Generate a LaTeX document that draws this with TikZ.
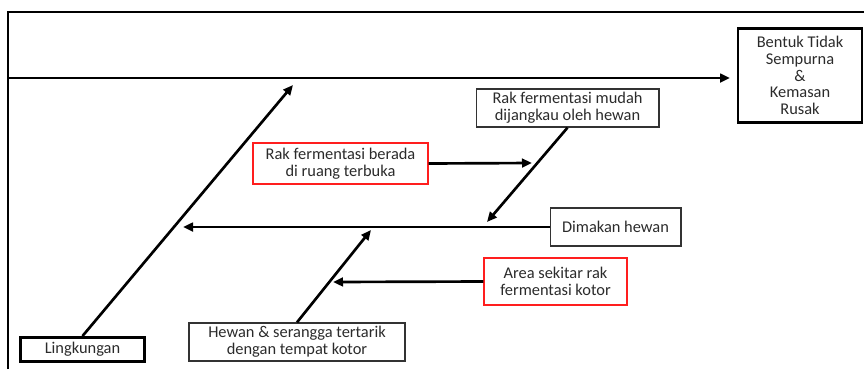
\documentclass[tikz,border=0pt]{standalone}
\usepackage{fontspec}
\setmainfont{Carlito}
\usepackage{tikz}
\usetikzlibrary{arrows.meta}
\definecolor{boxred}{HTML}{FF1E1E}
\definecolor{textgray}{HTML}{2B2B2B}

\begin{document}
\begin{tikzpicture}[x=0.75pt,y=-0.75pt,
    bone/.style={line width=2pt,-{Triangle[length=7.5pt,width=6.5pt]}},
    cause/.style={draw=black!80,line width=1pt,align=center,text=textgray,inner sep=1pt,
      font=\fontsize{12.3}{12.6}\selectfont},
    redcause/.style={cause,draw=boxred,line width=1.1pt},
    mainbox/.style={cause,draw=black,line width=2.2pt}]
        \useasboundingbox (0,0) rectangle (864,369);
        \draw[line width=1.2pt] (8,369)--(8,12)--(864,12);
        % boxes
        \node[mainbox,minimum width=93pt,minimum height=71pt] (effect) at (800,75.5) {Bentuk Tidak\\Sempurna\\\&\\Kemasan\\Rusak};
        \node[cause,minimum width=137pt,minimum height=28.5pt] (reach) at (567.5,108) {Rak fermentasi mudah\\dijangkau oleh hewan};
        \node[redcause,minimum width=131pt,minimum height=30.5pt] (open) at (340.5,163.5) {Rak fermentasi berada\\di ruang terbuka};
        \node[cause,minimum width=98pt,minimum height=28.5pt] (eaten) at (615.5,227) {Dimakan hewan};
        \node[redcause,minimum width=107pt,minimum height=35pt] (dirty) at (555.5,281.5) {Area sekitar rak\\fermentasi kotor};
        \node[cause,minimum width=162pt,minimum height=28.5pt] (pests) at (297,342) {Hewan \& serangga tertarik\\dengan tempat kotor};
        \node[mainbox,minimum width=93pt,minimum height=18pt] (env) at (82.5,349.5) {Lingkungan};
        % arrow ends
        \coordinate (tail) at (8,78);
        \coordinate (head) at (730,78);
        \coordinate (envtip) at (293,85);
        \coordinate (reachtip) at (487,222);
        \coordinate (opentip) at (532,163);
        \coordinate (eatentip) at (183,227);
        \coordinate (peststip) at (371,230);
        \coordinate (dirtytip) at (333,282);
        % bones
        \draw[bone] (tail)--(head);
        \draw[bone] (env.north)--(envtip);
        \draw[bone] (reach.south)--(reachtip);
        \draw[bone] (open.east)--(opentip);
        \draw[bone] (eaten.west)--(eatentip);
        \draw[bone] (pests.north)--(peststip);
        \draw[bone] (dirty.west)--(dirtytip);
      \end{tikzpicture}
\end{document}
